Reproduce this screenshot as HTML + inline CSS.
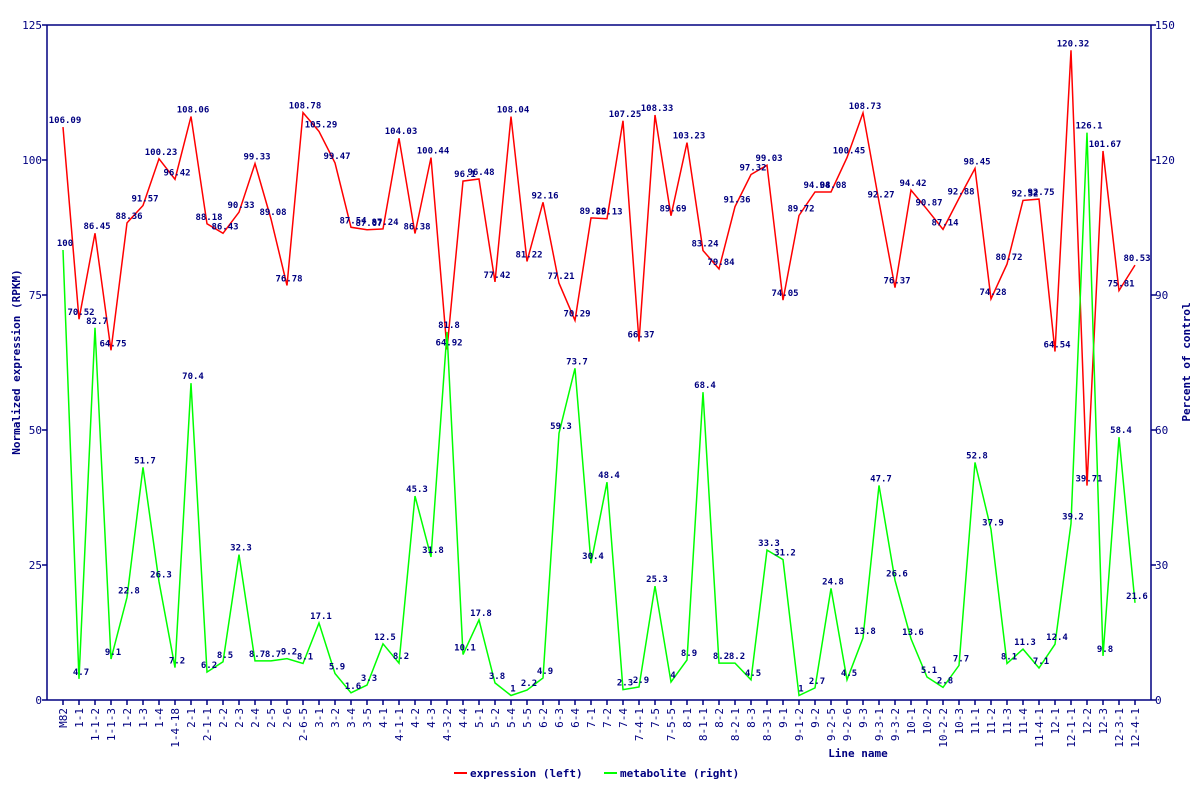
<!DOCTYPE html>
<html><head><meta charset="utf-8"><style>
body{margin:0;background:#fff}
svg text{font-family:"DejaVu Sans Mono","Liberation Mono",monospace;fill:#000080}
.v{font-size:9px;font-weight:bold;text-anchor:middle}
.t{font-size:11px}
.xl{font-size:11px}
.ax{font-size:11px;font-weight:bold}
</style></head><body>
<svg id="s" width="1200" height="800" xmlns="http://www.w3.org/2000/svg">
<rect width="1200" height="800" fill="#fff"/>
<g id="axes" stroke="#000080" stroke-width="1.5" fill="none"></g>
<polyline id="pr" fill="none" stroke="#ff0000" stroke-width="1.5"/>
<polyline id="pg" fill="none" stroke="#00ff00" stroke-width="1.5"/>
<g class="t" text-anchor="end">
<text x="42" y="704">0</text><text x="42" y="569">25</text><text x="42" y="434">50</text><text x="42" y="299">75</text><text x="42" y="164">100</text><text x="42" y="29">125</text>
</g>
<g class="t" text-anchor="start">
<text x="1155" y="704">0</text><text x="1155" y="569">30</text><text x="1155" y="434">60</text><text x="1155" y="299">90</text><text x="1155" y="164">120</text><text x="1155" y="29">150</text>
</g>
<text class="ax" transform="translate(20,362) rotate(-90)" text-anchor="middle">Normalized expression (RPKM)</text>
<text class="ax" transform="translate(1190,362) rotate(-90)" text-anchor="middle">Percent of control</text>
<text class="ax" x="858" y="757" text-anchor="middle">Line name</text>
<line x1="454" y1="773" x2="467" y2="773" stroke="#ff0000" stroke-width="2"/>
<text class="ax" x="470" y="777">expression (left)</text>
<line x1="604" y1="773" x2="617" y2="773" stroke="#00ff00" stroke-width="2"/>
<text class="ax" x="620" y="777">metabolite (right)</text>
<g id="xl" class="xl" text-anchor="end">
<text>M82</text><text>1-1</text><text>1-1-2</text><text>1-1-3</text><text>1-2</text><text>1-3</text><text>1-4</text><text>1-4-18</text><text>2-1</text><text>2-1-1</text><text>2-2</text><text>2-3</text><text>2-4</text><text>2-5</text><text>2-6</text><text>2-6-5</text><text>3-1</text><text>3-2</text><text>3-4</text><text>3-5</text><text>4-1</text><text>4-1-1</text><text>4-2</text><text>4-3</text><text>4-3-2</text><text>4-4</text><text>5-1</text><text>5-2</text><text>5-4</text><text>5-5</text><text>6-2</text><text>6-3</text><text>6-4</text><text>7-1</text><text>7-2</text><text>7-4</text><text>7-4-1</text><text>7-5</text><text>7-5-5</text><text>8-1</text><text>8-1-1</text><text>8-2</text><text>8-2-1</text><text>8-3</text><text>8-3-1</text><text>9-1</text><text>9-1-2</text><text>9-2</text><text>9-2-5</text><text>9-2-6</text><text>9-3</text><text>9-3-1</text><text>9-3-2</text><text>10-1</text><text>10-2</text><text>10-2-2</text><text>10-3</text><text>11-1</text><text>11-2</text><text>11-3</text><text>11-4</text><text>11-4-1</text><text>12-1</text><text>12-1-1</text><text>12-2</text><text>12-3</text><text>12-3-1</text><text>12-4-1</text>
</g>
<g id="rl" class="v">
<text>106.09</text><text>70.52</text><text>86.45</text><text>64.75</text><text>88.36</text><text>91.57</text><text>100.23</text><text>96.42</text><text>108.06</text><text>88.18</text><text>86.43</text><text>90.33</text><text>99.33</text><text>89.08</text><text>76.78</text><text>108.78</text><text>105.29</text><text>99.47</text><text>87.54</text><text>87.07</text><text>87.24</text><text>104.03</text><text>86.38</text><text>100.44</text><text>64.92</text><text>96.1</text><text>96.48</text><text>77.42</text><text>108.04</text><text>81.22</text><text>92.16</text><text>77.21</text><text>70.29</text><text>89.28</text><text>89.13</text><text>107.25</text><text>66.37</text><text>108.33</text><text>89.69</text><text>103.23</text><text>83.24</text><text>79.84</text><text>91.36</text><text>97.32</text><text>99.03</text><text>74.05</text><text>89.72</text><text>94.08</text><text>94.08</text><text>100.45</text><text>108.73</text><text>92.27</text><text>76.37</text><text>94.42</text><text>90.87</text><text>87.14</text><text>92.88</text><text>98.45</text><text>74.28</text><text>80.72</text><text>92.52</text><text>92.75</text><text>64.54</text><text>120.32</text><text>39.71</text><text>101.67</text><text>75.81</text><text>80.53</text>
</g>
<g id="gl" class="v">
<text>100</text><text>4.7</text><text>82.7</text><text>9.1</text><text>22.8</text><text>51.7</text><text>26.3</text><text>7.2</text><text>70.4</text><text>6.2</text><text>8.5</text><text>32.3</text><text>8.7</text><text>8.7</text><text>9.2</text><text>8.1</text><text>17.1</text><text>5.9</text><text>1.6</text><text>3.3</text><text>12.5</text><text>8.2</text><text>45.3</text><text>31.8</text><text>81.8</text><text>10.1</text><text>17.8</text><text>3.8</text><text>1</text><text>2.2</text><text>4.9</text><text>59.3</text><text>73.7</text><text>30.4</text><text>48.4</text><text>2.3</text><text>2.9</text><text>25.3</text><text>4</text><text>8.9</text><text>68.4</text><text>8.2</text><text>8.2</text><text>4.5</text><text>33.3</text><text>31.2</text><text>1</text><text>2.7</text><text>24.8</text><text>4.5</text><text>13.8</text><text>47.7</text><text>26.6</text><text>13.6</text><text>5.1</text><text>2.8</text><text>7.7</text><text>52.8</text><text>37.9</text><text>8.1</text><text>11.3</text><text>7.1</text><text>12.4</text><text>39.2</text><text>126.1</text><text>9.8</text><text>58.4</text><text>21.6</text>
</g>
</svg>
<script>
var NS="http://www.w3.org/2000/svg",L=47,R=1151,T=25,B=700;
function X(i){return 63+16*i}
var ax=document.getElementById('axes');
function ln(a,b,c,d){var l=document.createElementNS(NS,'line');l.setAttribute('x1',a);l.setAttribute('y1',b);l.setAttribute('x2',c);l.setAttribute('y2',d);ax.appendChild(l);}
ln(L,T,R,T);ln(L,B,R,B);ln(L,T,L,B);ln(R,T,R,B);
for(var k=0;k<=5;k++){var y=B-k*135;ln(L-5,y,L,y);ln(R,y,R+5,y);}
for(var i=0;i<68;i++)ln(X(i),B,X(i),B+5);
document.querySelectorAll('#xl text').forEach(function(t,i){t.setAttribute('transform','translate('+(X(i)+4)+','+(B+8)+') rotate(-90)');});
function series(g,p,s){var pts=[];document.querySelectorAll(g+' text').forEach(function(t,i){var v=parseFloat(t.textContent),y=B-v*s;pts.push(X(i)+','+y.toFixed(1));t.setAttribute('x',X(i)+2);t.setAttribute('y',y-4);});document.getElementById(p).setAttribute('points',pts.join(' '));}
series('#rl','pr',5.4);series('#gl','pg',4.5);
</script>
</body></html>
